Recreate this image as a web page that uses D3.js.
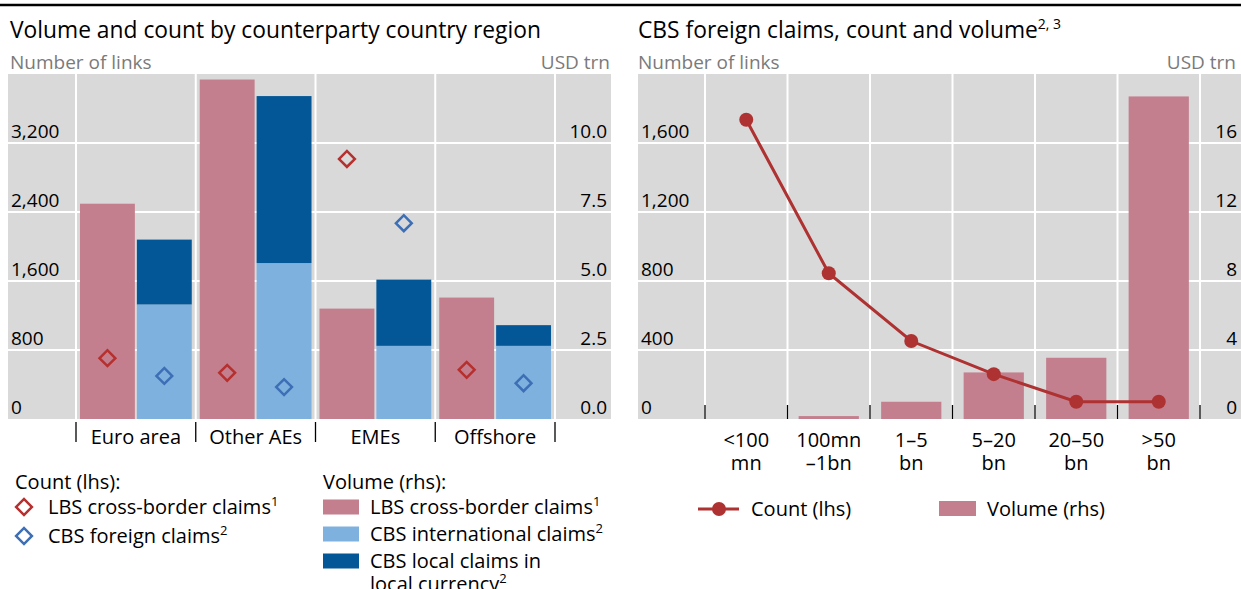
<!DOCTYPE html>
<html>
<head>
<meta charset="utf-8">
<script src="https://cdn.jsdelivr.net/npm/d3@7"></script>
<style>
body { margin: 0; background: #fff; }
svg text { font-family: "Open Sans", sans-serif; fill: #000; }
.grey { fill: #7a7a7a; }
</style>
</head>
<body>
<div id="chart"></div>
<script>
// left panel: volume and count by counterparty region
var regions = ["Euro area", "Other AEs", "EMEs", "Offshore"];
var lbsVolume = [7.8, 12.3, 4.0, 4.4];
var cbsIntlVolume = [4.15, 5.65, 2.65, 2.65];
var cbsLocalVolume = [2.35, 6.05, 2.4, 0.75];
var lbsCount = [705, 535, 3015, 570];
var cbsCount = [500, 370, 2270, 415];
var leftCountTicks = [0, 800, 1600, 2400, 3200];
var leftVolTicks = [0, 2.5, 5, 7.5, 10];

// right panel: CBS foreign claims by size of link
var sizeBuckets = [["<100", "mn"], ["100mn", "–1bn"], ["1–5", "bn"], ["5–20", "bn"], ["20–50", "bn"], [">50", "bn"]];
var bucketVolume = [0, 0.17, 1.0, 2.7, 3.55, 18.7];
var bucketCount = [1735, 845, 452, 260, 100, 100];
var rightCountTicks = [0, 400, 800, 1200, 1600];
var rightVolTicks = [0, 4, 8, 12, 16];

var colors = {
    lbs: "#c47f8e",
    cbsIntl: "#7fb1df",
    cbsLocal: "#045797",
    redMark: "#b5302f",
    blueMark: "#3d6fb6",
    line: "#ae3231",
    bg: "#d9d9d9"
};

var svg = d3.select("#chart").append("svg")
    .attr("width", 1241)
    .attr("height", 589);

// top rule
svg.append("line")
    .attr("x1", 0).attr("x2", 1241)
    .attr("y1", 5).attr("y2", 5)
    .attr("stroke", "#000")
    .attr("stroke-width", 2.5);

var plotTop = 74, plotBottom = 419;
var fs = 19;      // tick labels
var fsText = 20;  // categories, legends
var fsTitle = 22.8;

function drawFrame(g, left, right, bandLeft, bandRight, yL, yR, ticksL, ticksR, fmtL, fmtR, nBands)
{
    g.append("rect")
        .attr("x", left).attr("y", plotTop)
        .attr("width", right - left).attr("height", plotBottom - plotTop)
        .attr("fill", colors.bg);

    // horizontal gridlines
    g.selectAll("line.hgrid")
        .data(ticksL.slice(1))
        .enter()
        .append("line")
        .attr("x1", left).attr("x2", right)
        .attr("y1", d => yL(d)).attr("y2", d => yL(d))
        .attr("stroke", "#fff").attr("stroke-width", 2);

    // vertical gridlines at band edges
    var step = (bandRight - bandLeft) / nBands;
    var edges = d3.range(nBands + 1).map(i => bandLeft + i * step);
    g.selectAll("line.vgrid")
        .data(edges)
        .enter()
        .append("line")
        .attr("x1", d => d).attr("x2", d => d)
        .attr("y1", plotTop).attr("y2", plotBottom)
        .attr("stroke", "#fff").attr("stroke-width", 2);

    g.selectAll("text.lt")
        .data(ticksL)
        .enter()
        .append("text")
        .attr("x", left + 3)
        .attr("y", d => yL(d) - 5)
        .attr("font-size", fs)
        .text(fmtL);

    g.selectAll("text.rt")
        .data(ticksR)
        .enter()
        .append("text")
        .attr("x", right - 4)
        .attr("y", d => yR(d) - 5)
        .attr("text-anchor", "end")
        .attr("font-size", fs)
        .text(fmtR);

    return edges;
}

// ---------- left panel ----------
var left = svg.append("g");

var yCountL = d3.scaleLinear().domain([0, 4000]).range([plotBottom, plotTop]);
var yVolL = d3.scaleLinear().domain([0, 12.5]).range([plotBottom, plotTop]);

var edgesL = drawFrame(left, 8, 611, 76, 555, yCountL, yVolL, leftCountTicks, leftVolTicks,
    d3.format(","), d3.format(".1f"), regions.length);

left.append("text")
    .attr("x", 10).attr("y", 38)
    .attr("font-size", fsTitle)
    .text("Volume and count by counterparty country region");

left.append("text").attr("class", "grey")
    .attr("x", 10).attr("y", 69)
    .attr("font-size", fs)
    .text("Number of links");

left.append("text").attr("class", "grey")
    .attr("x", 610).attr("y", 69)
    .attr("text-anchor", "end")
    .attr("font-size", fs)
    .text("USD trn");

var xRegion = d3.scaleBand().domain(regions).range([76, 555]);
var xSub = d3.scaleBand().domain(["lbs", "cbs"]).range([0, xRegion.bandwidth()])
    .paddingInner(0.035).paddingOuter(0.07);

var leftRows = regions.map((r, i) => ({
    region: r,
    lbs: lbsVolume[i],
    intl: cbsIntlVolume[i],
    local: cbsLocalVolume[i],
    lbsCount: lbsCount[i],
    cbsCount: cbsCount[i]
}));

left.selectAll("rect.lbs")
    .data(leftRows)
    .enter()
    .append("rect")
    .attr("x", d => xRegion(d.region) + xSub("lbs"))
    .attr("y", d => yVolL(d.lbs))
    .attr("width", xSub.bandwidth())
    .attr("height", d => yVolL(0) - yVolL(d.lbs))
    .attr("fill", colors.lbs);

left.selectAll("rect.intl")
    .data(leftRows)
    .enter()
    .append("rect")
    .attr("x", d => xRegion(d.region) + xSub("cbs"))
    .attr("y", d => yVolL(d.intl))
    .attr("width", xSub.bandwidth())
    .attr("height", d => yVolL(0) - yVolL(d.intl))
    .attr("fill", colors.cbsIntl);

left.selectAll("rect.local")
    .data(leftRows)
    .enter()
    .append("rect")
    .attr("x", d => xRegion(d.region) + xSub("cbs"))
    .attr("y", d => yVolL(d.intl + d.local))
    .attr("width", xSub.bandwidth())
    .attr("height", d => yVolL(d.intl) - yVolL(d.intl + d.local))
    .attr("fill", colors.cbsLocal);

// diamonds: rotated squares
var diamond = d3.symbol().type(d3.symbolSquare).size(125);

left.selectAll("path.lbsCount")
    .data(leftRows)
    .enter()
    .append("path")
    .attr("d", diamond)
    .attr("transform", d => `translate(${xRegion(d.region) + xSub("lbs") + xSub.bandwidth() / 2},${yCountL(d.lbsCount)}) rotate(45)`)
    .attr("fill", "none")
    .attr("stroke", colors.redMark)
    .attr("stroke-width", 2.5);

left.selectAll("path.cbsCount")
    .data(leftRows)
    .enter()
    .append("path")
    .attr("d", diamond)
    .attr("transform", d => `translate(${xRegion(d.region) + xSub("cbs") + xSub.bandwidth() / 2},${yCountL(d.cbsCount)}) rotate(45)`)
    .attr("fill", "none")
    .attr("stroke", colors.blueMark)
    .attr("stroke-width", 2.5);

// category axis below
left.selectAll("line.ctick")
    .data(edgesL)
    .enter()
    .append("line")
    .attr("x1", d => d).attr("x2", d => d)
    .attr("y1", 422).attr("y2", 442)
    .attr("stroke", "#000").attr("stroke-width", 1.3);

left.selectAll("text.cat")
    .data(regions)
    .enter()
    .append("text")
    .attr("x", d => xRegion(d) + xRegion.bandwidth() / 2)
    .attr("y", 444)
    .attr("text-anchor", "middle")
    .attr("font-size", fsText)
    .text(d => d);

// left legend
function supText(sel, main, sup)
{
    sel.append("tspan").text(main);
    sel.append("tspan").attr("font-size", 13).attr("dy", -8).text(sup);
}

left.append("text").attr("x", 15).attr("y", 489).attr("font-size", fsText).text("Count (lhs):");
var cntLegend = [["LBS cross-border claims", "1", colors.redMark], ["CBS foreign claims", "2", colors.blueMark]];
cntLegend.forEach((d, i) => {
    var cy = 507 + i * 29;
    left.append("path")
        .attr("d", diamond)
        .attr("transform", `translate(24,${cy}) rotate(45)`)
        .attr("fill", "none")
        .attr("stroke", d[2])
        .attr("stroke-width", 2.5);
    supText(left.append("text").attr("x", 48).attr("y", cy + 7).attr("font-size", fsText), d[0], d[1]);
});

left.append("text").attr("x", 323).attr("y", 489).attr("font-size", fsText).text("Volume (rhs):");
var volLegend = [["LBS cross-border claims", "1", colors.lbs], ["CBS international claims", "2", colors.cbsIntl]];
volLegend.forEach((d, i) => {
    var cy = 507 + i * 27;
    left.append("rect")
        .attr("x", 323).attr("y", cy - 7.5)
        .attr("width", 36).attr("height", 15)
        .attr("fill", d[2]);
    supText(left.append("text").attr("x", 370).attr("y", cy + 7).attr("font-size", fsText), d[0], d[1]);
});
left.append("rect")
    .attr("x", 323).attr("y", 553.5)
    .attr("width", 36).attr("height", 15)
    .attr("fill", colors.cbsLocal);
left.append("text").attr("x", 370).attr("y", 568).attr("font-size", fsText).text("CBS local claims in");
supText(left.append("text").attr("x", 370).attr("y", 591).attr("font-size", fsText), "local currency", "2");

// ---------- right panel ----------
var right = svg.append("g");

var yCountR = d3.scaleLinear().domain([0, 2000]).range([plotBottom, plotTop]);
var yVolR = d3.scaleLinear().domain([0, 20]).range([plotBottom, plotTop]);

var edgesR = drawFrame(right, 638, 1241, 705, 1200, yCountR, yVolR, rightCountTicks, rightVolTicks,
    d3.format(","), d3.format("d"), sizeBuckets.length);

var titleR = right.append("text")
    .attr("x", 638).attr("y", 38)
    .attr("font-size", fsTitle);
titleR.append("tspan").text("CBS foreign claims, count and volume");
titleR.append("tspan").attr("font-size", 14).attr("dy", -9).text("2, 3");

right.append("text").attr("class", "grey")
    .attr("x", 638).attr("y", 69)
    .attr("font-size", fs)
    .text("Number of links");

right.append("text").attr("class", "grey")
    .attr("x", 1236).attr("y", 69)
    .attr("text-anchor", "end")
    .attr("font-size", fs)
    .text("USD trn");

var bucketKeys = sizeBuckets.map(d => d.join(" "));
var xBucket = d3.scaleBand().domain(bucketKeys).range([705, 1200]).paddingInner(0.27).paddingOuter(0.135);
var xBucketCenter = d3.scaleBand().domain(bucketKeys).range([705, 1200]);

var rightRows = bucketKeys.map((k, i) => ({ key: k, vol: bucketVolume[i], count: bucketCount[i] }));

right.selectAll("rect.vol")
    .data(rightRows)
    .enter()
    .append("rect")
    .attr("x", d => xBucket(d.key))
    .attr("y", d => yVolR(d.vol))
    .attr("width", xBucket.bandwidth())
    .attr("height", d => yVolR(0) - yVolR(d.vol))
    .attr("fill", colors.lbs);

// ticks pointing up from the baseline
right.selectAll("line.ctick")
    .data(edgesR)
    .enter()
    .append("line")
    .attr("x1", d => d).attr("x2", d => d)
    .attr("y1", 405).attr("y2", 419)
    .attr("stroke", "#000").attr("stroke-width", 1.3);

var cx = d => xBucketCenter(d.key) + xBucketCenter.bandwidth() / 2;

right.append("path")
    .datum(rightRows)
    .attr("d", d3.line().x(cx).y(d => yCountR(d.count)))
    .attr("fill", "none")
    .attr("stroke", colors.line)
    .attr("stroke-width", 3);

right.selectAll("circle.pt")
    .data(rightRows)
    .enter()
    .append("circle")
    .attr("cx", cx)
    .attr("cy", d => yCountR(d.count))
    .attr("r", 7)
    .attr("fill", colors.line);

var catText = right.selectAll("text.cat")
    .data(rightRows)
    .enter()
    .append("text")
    .attr("text-anchor", "middle")
    .attr("font-size", fsText);
catText.append("tspan")
    .attr("x", cx).attr("y", 447)
    .text((d, i) => sizeBuckets[i][0]);
catText.append("tspan")
    .attr("x", cx).attr("y", 470)
    .text((d, i) => sizeBuckets[i][1]);

// right legend
right.append("line")
    .attr("x1", 698).attr("x2", 739)
    .attr("y1", 509).attr("y2", 509)
    .attr("stroke", colors.line).attr("stroke-width", 3);
right.append("circle").attr("cx", 719).attr("cy", 509).attr("r", 7).attr("fill", colors.line);
right.append("text").attr("x", 751).attr("y", 516).attr("font-size", fsText).text("Count (lhs)");
right.append("rect").attr("x", 939).attr("y", 501).attr("width", 37).attr("height", 15).attr("fill", colors.lbs);
right.append("text").attr("x", 987).attr("y", 516).attr("font-size", fsText).text("Volume (rhs)");
</script>
</body>
</html>
